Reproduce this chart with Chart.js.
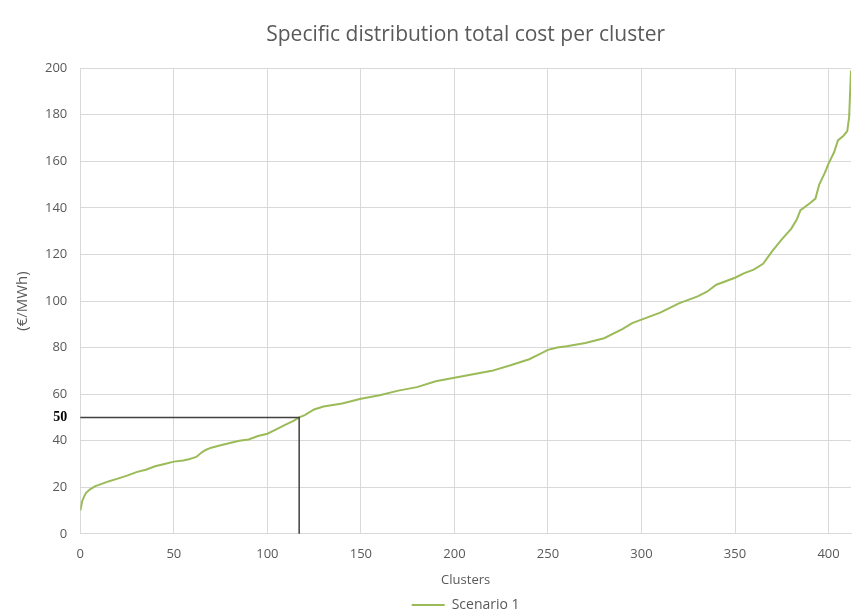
<!DOCTYPE html>
<html>
<head>
<meta charset="utf-8">
<script src="https://cdn.jsdelivr.net/npm/chart.js@4/dist/chart.umd.min.js"></script>
<style>
  html, body { margin: 0; padding: 0; background: #fff; }
  #wrap { width: 860px; height: 616px; }
</style>
</head>
<body>
<div id="wrap"><canvas id="costChart"></canvas></div>
<script>
// clusters sorted by cost
const clusters = [0, 1, 2, 3, 5, 8, 10, 15, 20, 25, 30, 35, 40, 45, 50, 55, 58, 60, 62, 65, 67, 70, 75, 80, 85, 90, 95, 100, 105, 110, 114, 117, 120, 125, 130, 140, 150, 160, 170, 180, 190, 200, 210, 220, 230, 240, 245, 250, 255, 260, 270, 280, 290, 295, 300, 310, 320, 330, 335, 340, 345, 350, 355, 360, 365, 370, 375, 380, 383, 385, 390, 393, 395, 398, 400, 403, 405, 408, 410, 411, 412];
const costs = [10, 14, 16, 17.5, 19, 20.5, 21, 22.5, 23.7, 25, 26.5, 27.5, 29, 30, 31, 31.5, 32, 32.5, 33, 35, 36, 37, 38, 39, 40, 40.5, 42, 43, 45, 47, 48.5, 50, 51, 53.4, 54.7, 56, 58, 59.5, 61.5, 63, 65.5, 67, 68.5, 70, 72.4, 75, 77, 79, 80, 80.6, 82, 84, 88, 90.5, 92, 95, 99, 102, 104, 107, 108.5, 110, 112, 113.5, 116, 121.5, 126.5, 131, 135, 139, 142, 144, 150, 155, 159, 164, 169, 171, 173, 179, 199];
const xTicks = [0, 50, 100, 150, 200, 250, 300, 350, 400];
const markCluster = 117;
const markCost = 50;

const textColor = "#595959";
const gridColor = "#d9d9d9";

const points = clusters.map((c, i) => ({ x: c, y: costs[i] }));

// linea e shenjuar 50 €/MWh
const markerPlugin = {
    id: "marker",
    afterDatasetsDraw(chart) {
        const { ctx, scales } = chart;
        const x0 = scales.x.getPixelForValue(0);
        const xm = scales.x.getPixelForValue(markCluster);
        const ym = scales.y.getPixelForValue(markCost);
        const yb = scales.y.getPixelForValue(0);
        ctx.save();
        ctx.strokeStyle = "#404040";
        ctx.lineWidth = 1.5;
        ctx.beginPath();
        ctx.moveTo(x0, ym);
        ctx.lineTo(xm, ym);
        ctx.lineTo(xm, yb);
        ctx.stroke();
        ctx.fillStyle = "#000";
        ctx.font = "bold 14px 'Liberation Serif'";
        ctx.textAlign = "right";
        ctx.textBaseline = "middle";
        ctx.fillText(String(markCost), scales.y.right - 13, ym);
        ctx.restore();
    }
};

const ctx = document.getElementById("costChart").getContext("2d");
new Chart(ctx, {
    type: "line",
    data: {
        datasets: [{
            label: "Scenario 1",
            data: points,
            borderColor: "#9bbb59",
            backgroundColor: "#9bbb59",
            borderWidth: 2,
            pointRadius: 0,
            tension: 0
        }]
    },
    options: {
        responsive: true,
        maintainAspectRatio: false,
        animation: false,
        layout: { padding: { left: 14, right: 9, top: 22, bottom: -6 } },
        plugins: {
            title: {
                display: true,
                text: "Specific distribution total cost per cluster",
                fullSize: false,
                color: textColor,
                font: { family: "'Open Sans'", size: 21, weight: "normal" },
                padding: { top: 0, bottom: 21 }
            },
            legend: {
                position: "bottom",
                fullSize: false,
                labels: {
                    color: textColor,
                    font: { family: "'Open Sans'", size: 14 },
                    usePointStyle: true,
                    pointStyle: "line",
                    pointStyleWidth: 33,
                    padding: 0
                }
            },
            tooltip: { enabled: false }
        },
        scales: {
            x: {
                type: "linear",
                min: 0,
                max: 412,
                afterBuildTicks: (axis) => {
                    axis.ticks = xTicks.map(v => ({ value: v }));
                },
                grid: { color: gridColor, drawTicks: false },
                border: { color: gridColor },
                ticks: {
                    color: textColor,
                    font: { family: "'Open Sans'", size: 13 },
                    padding: 13,
                    maxRotation: 0
                },
                title: {
                    display: true,
                    text: "Clusters",
                    color: textColor,
                    font: { family: "'Open Sans'", size: 13 },
                    padding: { top: -3, bottom: 10 }
                }
            },
            y: {
                min: 0,
                max: 200,
                ticks: {
                    stepSize: 20,
                    color: textColor,
                    font: { family: "'Open Sans'", size: 13 },
                    padding: 13
                },
                grid: { color: gridColor, drawTicks: false },
                border: { color: gridColor },
                title: {
                    display: true,
                    text: "(€/MWh)",
                    color: textColor,
                    font: { family: "'Open Sans'", size: 15 },
                    padding: { top: 0, bottom: 0 }
                }
            }
        }
    },
    plugins: [markerPlugin]
});
</script>
</body>
</html>
